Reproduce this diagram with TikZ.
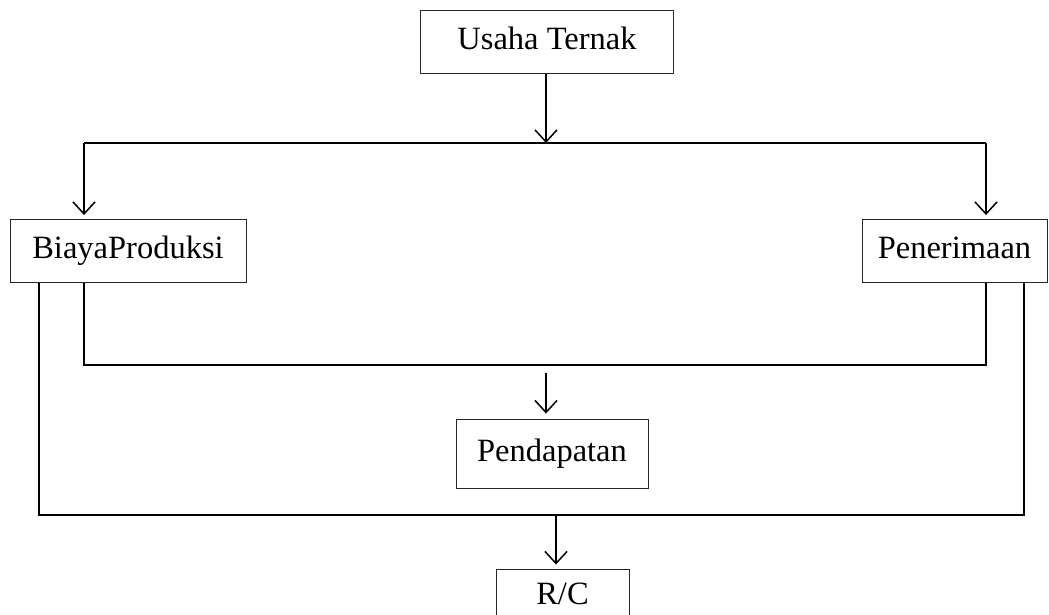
\documentclass[tikz,border=0pt]{standalone}
\usepackage{fontspec}
\setmainfont{Liberation Serif}
\usetikzlibrary{arrows.meta}

\begin{document}
\begin{tikzpicture}[x=1pt,y=-1pt,
    kotak/.style={draw=black!85,line width=0.9pt,inner sep=0pt,minimum height=63pt,
                  text height=22pt,text depth=7pt,
                  font=\fontsize{32.5}{38}\selectfont},
    garis/.style={line width=1.5pt},
    >={Straight Barb[length=12pt,width=22pt,line width=1.5pt]}]
    \useasboundingbox (0,0) rectangle (1049,615);

    % kotak-kotak
    \node[kotak,minimum width=253pt] (ternak) at (547,42) {Usaha Ternak};
    \node[kotak,minimum width=236pt] (biaya) at (128,251) {BiayaProduksi};
    \node[kotak,minimum width=185pt] (terima) at (954.5,251) {Penerimaan};
    \node[kotak,minimum width=192pt,minimum height=69pt] (dapat) at (552,453.5) {Pendapatan};
    \node[kotak,minimum width=133pt,minimum height=56pt] (rc) at (562.5,597) {R/C};

    % titik sambungan
    \coordinate (atas) at (546,143);
    \coordinate (atasL) at (84,143);
    \coordinate (atasR) at (986,143);
    \coordinate (tengahL) at (84,365);
    \coordinate (tengahR) at (986,365);
    \coordinate (tengah) at (546,373);
    \coordinate (bawahL) at (39,515);
    \coordinate (bawahR) at (1024,515);
    \coordinate (bawah) at (556,515);

    % usaha ternak -> biaya, penerimaan
    \draw[garis,->] (ternak.south -| atas) -- (atas);
    \draw[garis] (atasL) -- (atasR);
    \draw[garis,->,shorten >=4pt] (atasL) -- (atasL |- biaya.north);
    \draw[garis,->,shorten >=4pt] (atasR) -- (atasR |- terima.north);

    % biaya, penerimaan -> pendapatan
    \draw[garis] (tengahL |- biaya.south) -- (tengahL) -- (tengahR) -- (tengahR |- terima.south);
    \draw[garis,->,shorten >=5pt] (tengah) -- (tengah |- dapat.north);

    % biaya, penerimaan -> R/C
    \draw[garis] (bawahL |- biaya.south) -- (bawahL) -- (bawahR) -- (bawahR |- terima.south);
    \draw[garis,->,shorten >=4pt] (bawah) -- (bawah |- rc.north);
\end{tikzpicture}
\end{document}
